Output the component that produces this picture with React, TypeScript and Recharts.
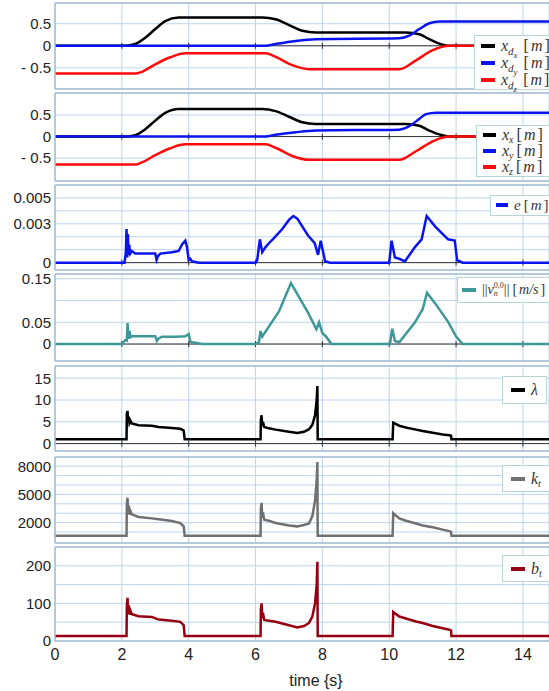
import React from 'react';
import { LineChart, Line, XAxis, YAxis, CartesianGrid, ReferenceLine, Legend } from 'recharts';

const timeTicks = [0, 2, 4, 6, 8, 10, 12, 14];

// panel 1: desired position
const xdxT = [0, 2.1, 2.4, 2.7, 3.0, 3.3, 3.7, 6.2, 6.6, 7.0, 7.4, 7.8, 10.5, 10.9, 11.2, 11.5, 11.8, 14.8];
const xdxV = [0, 0, 0.04, 0.18, 0.38, 0.56, 0.64, 0.64, 0.6, 0.47, 0.34, 0.3, 0.3, 0.26, 0.15, 0.05, 0, 0];
const xdyT = [0, 6.3, 6.6, 7.2, 7.8, 10.3, 10.6, 10.9, 11.2, 11.5, 14.8];
const xdyV = [0, 0, 0.04, 0.11, 0.15, 0.17, 0.23, 0.38, 0.51, 0.55, 0.55];
const xdzT = [0, 2.4, 2.6, 3.0, 3.45, 3.9, 6.3, 6.6, 7.1, 7.6, 10.3, 10.8, 11.3, 11.8, 14.8];
const xdzV = [-0.63, -0.63, -0.59, -0.42, -0.26, -0.17, -0.17, -0.25, -0.44, -0.53, -0.53, -0.33, -0.1, 0, 0];

// panel 2: actual position
const xxT = [0, 2.1, 2.4, 2.7, 3.0, 3.3, 3.7, 6.2, 6.6, 7.0, 7.4, 7.8, 10.5, 10.9, 11.2, 11.5, 11.8, 14.8];
const xxV = [0, 0, 0.03, 0.17, 0.37, 0.55, 0.64, 0.64, 0.59, 0.46, 0.33, 0.29, 0.29, 0.25, 0.14, 0.05, 0, 0];
const xyT = [0, 6.3, 6.6, 7.2, 7.8, 10.3, 10.6, 10.9, 11.1, 11.4, 14.8];
const xyV = [0, 0, 0.04, 0.1, 0.14, 0.16, 0.24, 0.41, 0.52, 0.555, 0.555];
const xzT = [0, 2.4, 2.6, 3.0, 3.45, 3.9, 6.3, 6.6, 7.1, 7.6, 10.3, 10.8, 11.3, 11.8, 14.8];
const xzV = [-0.65, -0.65, -0.6, -0.43, -0.27, -0.18, -0.18, -0.26, -0.45, -0.54, -0.54, -0.34, -0.11, 0, 0];

// panel 3: error e
const eT = [0, 2.08, 2.12, 2.14, 2.16, 2.18, 2.2, 2.22, 2.25, 2.3, 2.4, 3.0, 3.04, 3.08, 3.15, 3.5, 3.7, 3.8, 3.9, 3.95, 4.0, 4.05, 4.1, 4.3,
  6.0, 6.05, 6.13, 6.2, 6.25, 6.3, 6.4, 6.55, 6.8, 7.0, 7.13, 7.25, 7.57, 7.77, 7.87, 7.95, 8.08, 8.23,
  10.0, 10.07, 10.17, 10.3, 10.47, 10.77, 10.97, 11.12, 11.37, 11.76, 11.96, 12.03, 12.2, 14.8];
const eV = [0, 0, 0.0008, 0.0026, 0.0004, 0.0022, 0.0006, 0.0014, 0.0007, 0.0009, 0.0007, 0.0007, 0.0002, 0.0005, 0.0007, 0.0008, 0.0009, 0.0014, 0.0017, 0.0012, 0.0002, 0.0003, 0.0001, 0,
  0, 0.0002, 0.0018, 0.0008, 0.001, 0.0012, 0.0015, 0.0019, 0.0026, 0.0033, 0.0036, 0.0034, 0.0021, 0.0015, 0.0006, 0.0017, 0.0001, 0,
  0, 0.0017, 0.0004, 0.0003, 0.0001, 0.0012, 0.0018, 0.0036, 0.0028, 0.0018, 0.0017, 0.0002, 0, 0];

// panel 4: velocity norm
const vT = [0, 2.0, 2.1, 2.15, 2.17, 2.2, 2.23, 2.26, 2.3, 3.0, 3.05, 3.1, 3.2, 3.6, 3.9, 4.0, 4.05, 4.2, 4.4,
  6.0, 6.1, 6.15, 6.2, 6.7, 7.06, 7.57, 7.82, 7.9, 8.0, 8.1, 8.27,
  10.02, 10.09, 10.17, 10.3, 10.77, 11.0, 11.13, 11.37, 11.77, 12.0, 12.2, 14.8];
const vV = [0, 0, 0.009, 0.008, 0.048, 0.012, 0.03, 0.016, 0.018, 0.018, 0.007, 0.013, 0.017, 0.017, 0.018, 0.023, 0.005, 0.003, 0,
  0, 0.004, 0.03, 0.017, 0.075, 0.14, 0.072, 0.034, 0.05, 0.025, 0.018, 0,
  0, 0.035, 0.007, 0.004, 0.05, 0.08, 0.118, 0.094, 0.05, 0.017, 0, 0];

// panels 5-7: lambda, k_t, b_t
const gT = [0, 2.14, 2.15, 2.17, 2.19, 2.21, 2.23, 2.26, 2.3, 2.5, 2.9, 3.1, 3.5, 3.75, 3.85, 3.88,
  6.15, 6.16, 6.18, 6.2, 6.22, 6.26, 6.4, 6.6, 7.0, 7.25, 7.45, 7.6, 7.7, 7.78, 7.83, 7.85, 7.86,
  10.1, 10.12, 10.3, 10.5, 10.8, 11.0, 11.3, 11.6, 11.8, 11.85, 11.86, 14.8];
const lambdaV = [1, 1, 6.8, 7.5, 4.8, 6.2, 4.7, 5.2, 4.6, 4.2, 4.1, 3.8, 3.6, 3.4, 3.0, 1,
  1, 5.5, 6.5, 4.0, 5.0, 3.8, 3.5, 3.2, 2.7, 2.45, 2.7, 3.3, 4.3, 6.5, 10, 13.2, 1,
  1, 4.8, 4.1, 3.7, 3.2, 2.9, 2.5, 2.1, 1.9, 1.8, 1, 1];
const ktV = [600, 600, 4000, 4650, 2900, 3800, 2850, 3200, 2880, 2600, 2450, 2350, 2170, 1950, 1600, 600,
  600, 3500, 4100, 2500, 3100, 2300, 2200, 1960, 1700, 1600, 1750, 1900, 2700, 4300, 6500, 8450, 600,
  600, 3000, 2450, 2200, 1900, 1700, 1500, 1250, 1100, 1000, 600, 600];
const btV = [13, 13, 95, 115, 72, 95, 70, 80, 71, 66, 64, 57, 54, 51, 42, 13,
  13, 85, 100, 60, 75, 56, 54, 51, 42, 36, 40, 48, 65, 100, 150, 211, 13,
  13, 77, 65, 60, 52, 48, 40, 34, 30, 28, 13, 13];

const W = 549;
const X_MAX = 14.78;
const M = 10; // vertical slack around each plot so tick labels are not clipped
const GRID = '#bcd4ee';
const BORDER = '#a9bcd2';
const sans = '"Liberation Sans", Arial, sans-serif';
const serif = '"Liberation Serif", "DejaVu Serif", serif';

const it = { fontStyle: 'italic' as const };
const sub = (fs: number, top: number) => ({ fontSize: fs, position: 'relative' as const, top });
const Brk = ({ u, gap = 6 }: { u: React.ReactNode; gap?: number }) => (
  <span style={{ fontStyle: 'normal', marginLeft: gap }}>[<span style={{ ...it, margin: '0 2px' }}>{u}</span>]</span>
);

const labels: Record<string, React.ReactNode> = {
  xdx: <span><span style={it}>x</span><span style={sub(11, 4)}><i>d</i><span style={sub(9, 3)}><i>x</i></span></span><Brk u="m" /></span>,
  xdy: <span><span style={it}>x</span><span style={sub(11, 4)}><i>d</i><span style={sub(9, 3)}><i>y</i></span></span><Brk u="m" /></span>,
  xdz: <span><span style={it}>x</span><span style={sub(11, 4)}><i>d</i><span style={sub(9, 3)}><i>z</i></span></span><Brk u="m" /></span>,
  xx: <span><span style={it}>x</span><span style={sub(10, 3)}><i>x</i></span><Brk u="m" gap={3} /></span>,
  xy: <span><span style={it}>x</span><span style={sub(10, 3)}><i>y</i></span><Brk u="m" gap={3} /></span>,
  xz: <span><span style={it}>x</span><span style={sub(10, 3)}><i>z</i></span><Brk u="m" gap={3} /></span>,
  e: <span style={{ fontSize: 15 }}><span style={it}>e</span><Brk u="m" gap={3} /></span>,
  v: <span style={{ fontSize: 14 }}>||<span style={it}>v</span><span style={{ display: 'inline-flex', flexDirection: 'column', fontSize: 8, lineHeight: '8px', verticalAlign: 'middle' }}><span>0,0</span><i>n</i></span>||<Brk u="m/s" gap={3} /></span>,
  lambda: <span style={it}>λ</span>,
  kt: <span><span style={it}>k</span><span style={sub(10, 3)}><i>t</i></span></span>,
  bt: <span><span style={it}>b</span><span style={sub(10, 3)}><i>t</i></span></span>,
};

type Series = { key: string; t: number[]; v: number[]; color: string };
type PanelSpec = {
  top: number; bottom: number; domain: [number, number]; grid: number[]; shown: number[];
  series: Series[]; smooth?: boolean; zero: boolean; showX?: boolean;
  legend: { left: number; top: number; row: number; pad: number; sw: number };
};

const fmtNum = (v: number) => (v < 0 ? '- ' + String(-v) : String(v));

const panels: PanelSpec[] = [
  {
    top: 3, bottom: 89, domain: [-0.98, 0.97], grid: [-0.5, 0, 0.5], shown: [-0.5, 0, 0.5], smooth: true, zero: true,
    series: [
      { key: 'xdx', t: xdxT, v: xdxV, color: '#000000' },
      { key: 'xdy', t: xdyT, v: xdyV, color: '#0a14f0' },
      { key: 'xdz', t: xdzT, v: xdzV, color: '#ff0a0a' },
    ],
    legend: { left: 474, top: 35, row: 17, pad: 6, sw: 14 },
  },
  {
    top: 93, bottom: 181, domain: [-1.03, 1.01], grid: [-0.5, 0, 0.5], shown: [-0.5, 0, 0.5], smooth: true, zero: true,
    series: [
      { key: 'xx', t: xxT, v: xxV, color: '#000000' },
      { key: 'xy', t: xyT, v: xyV, color: '#0a14f0' },
      { key: 'xz', t: xzT, v: xzV, color: '#ff0a0a' },
    ],
    legend: { left: 476, top: 125, row: 16, pad: 6, sw: 13 },
  },
  {
    top: 185, bottom: 270, domain: [-0.00057, 0.006], grid: [0, 0.001, 0.002, 0.003, 0.004, 0.005], shown: [0, 0.003, 0.005], zero: true,
    series: [{ key: 'e', t: eT, v: eV, color: '#0a14f0' }],
    legend: { left: 490, top: 193, row: 17, pad: 5, sw: 12 },
  },
  {
    top: 274, bottom: 361, domain: [-0.039, 0.161], grid: [0, 0.05, 0.1, 0.15], shown: [0, 0.05, 0.15], zero: true,
    series: [{ key: 'v', t: vT, v: vV, color: '#3f9898' }],
    legend: { left: 457, top: 277, row: 22, pad: 4, sw: 14 },
  },
  {
    top: 366, bottom: 451, domain: [-1.7, 17.8], grid: [0, 5, 10, 15], shown: [0, 5, 10, 15], zero: true,
    series: [{ key: 'lambda', t: gT, v: lambdaV, color: '#000000' }],
    legend: { left: 502, top: 376, row: 24, pad: 8, sw: 14 },
  },
  {
    top: 457, bottom: 543, domain: [-170, 8980], grid: [1000, 2000, 3000, 4000, 5000, 6000, 7000, 8000], shown: [2000, 5000, 8000], zero: false,
    series: [{ key: 'kt', t: gT, v: ktV, color: '#707070' }],
    legend: { left: 502, top: 465, row: 23, pad: 8, sw: 14 },
  },
  {
    top: 547, bottom: 641, domain: [0, 250], grid: [0, 50, 100, 150, 200], shown: [0, 100, 200], zero: false, showX: true,
    series: [{ key: 'bt', t: gT, v: btV, color: '#960012' }],
    legend: { left: 502, top: 555, row: 23, pad: 8, sw: 14 },
  },
];

const pts = (t: number[], v: number[]) => t.map((x, i) => ({ t: x, v: v[i] }));

function LegendBox({ payload, row, pad, sw }: any) {
  return (
    <div style={{ display: 'inline-block', background: '#fff', border: '1px solid #b7d5d5', padding: `1px ${pad}px`, whiteSpace: 'nowrap', fontFamily: serif, fontSize: 16, color: '#333' }}>
      {(payload || []).map((p: any) => (
        <div key={p.value} style={{ display: 'flex', alignItems: 'center', height: row }}>
          <span style={{ display: 'inline-block', width: sw, height: 4, background: p.color, marginRight: 6 }} />
          {labels[p.value]}
        </div>
      ))}
    </div>
  );
}

function Panel({ p }: { p: PanelSpec }) {
  const plotH = p.bottom - p.top;
  const height = plotH + M + (p.showX ? 50 : M);
  const chartTop = p.top - M;
  const d = ((p.domain[1] - p.domain[0]) * 3) / plotH;
  const fmt = (v: number) => (p.shown.some((s) => Math.abs(s - v) < 1e-9) ? fmtNum(v) : '');
  return (
    <div style={{ position: 'absolute', left: 0, top: chartTop }}>
      <LineChart width={W} height={height} margin={{ top: M, right: 0, bottom: p.showX ? 0 : M, left: 0 }}>
        <CartesianGrid stroke={GRID} strokeWidth={1} />
        <XAxis
          type="number" dataKey="t" domain={[0, X_MAX]} ticks={timeTicks} allowDataOverflow interval={0}
          hide={!p.showX} height={50} tickLine={false} tickSize={0} tickMargin={8}
          axisLine={{ stroke: BORDER, strokeWidth: 1.5 }}
          tick={{ fontFamily: sans, fontSize: 16, fill: '#222' }}
          label={{ value: 'time {s}', position: 'insideBottom', offset: 5, dx: 14, style: { fontFamily: sans, fontSize: 16, fill: '#222' } }}
        />
        <YAxis
          type="number" domain={p.domain} ticks={p.grid} allowDataOverflow interval={0} width={55}
          axisLine={{ stroke: BORDER, strokeWidth: 1.5 }} tickLine={false} tickSize={0} tickMargin={4}
          tick={{ fontFamily: sans, fontSize: 15, fill: '#222' }} tickFormatter={fmt}
        />
        <ReferenceLine y={p.domain[1]} stroke={BORDER} strokeWidth={1.5} />
        {!p.showX && <ReferenceLine y={p.domain[0]} stroke={BORDER} strokeWidth={1.5} />}
        {p.zero && <ReferenceLine y={0} stroke="#333" strokeWidth={1} />}
        {p.zero && timeTicks.slice(1).map((t) => (
          <ReferenceLine key={'tk' + t} segment={[{ x: t, y: -d }, { x: t, y: d }]} stroke="#333" strokeWidth={1} />
        ))}
        {p.series.map((s) => (
          <Line
            key={s.key} name={s.key} data={pts(s.t, s.v)} dataKey="v" type={p.smooth ? 'monotone' : 'linear'}
            stroke={s.color} strokeWidth={2.5} dot={false} activeDot={false} isAnimationActive={false}
          />
        ))}
        <Legend
          layout="horizontal" verticalAlign="middle" align="center"
          wrapperStyle={{ left: p.legend.left, top: p.legend.top - chartTop, width: 'auto', height: 'auto' }}
          content={(props: any) => <LegendBox payload={props.payload} row={p.legend.row} pad={p.legend.pad} sw={p.legend.sw} />}
        />
      </LineChart>
    </div>
  );
}

export default function App() {
  return (
    <div style={{ position: 'absolute', left: 0, top: 0, width: W, height: 691, overflow: 'hidden', background: '#fff' }}>
      {panels.map((p, i) => <Panel key={i} p={p} />)}
    </div>
  );
}
